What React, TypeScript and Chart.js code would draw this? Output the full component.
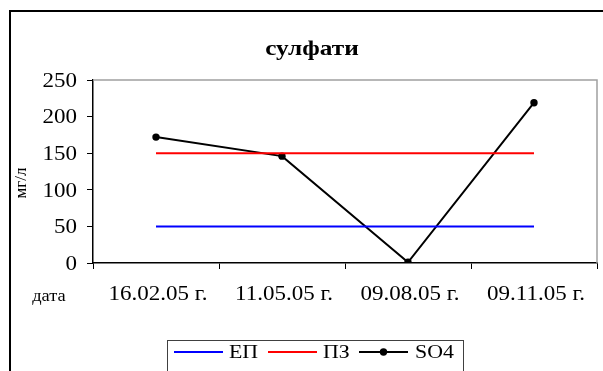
import React, { useEffect, useRef } from "react";
import { Chart, registerables } from "chart.js";

Chart.register(...registerables);

const categories = ["16.02.05 г.", "11.05.05 г.", "09.08.05 г.", "09.11.05 г."];
const epValues = [50, 50, 50, 50];
const pzValues = [150, 150, 150, 150];
const so4Values = [172, 146, 1, 219];
const seriesLabels = ["ЕП", "ПЗ", "SO4"];
const seriesColors = ["#0000ff", "#ff0000", "#000000"];
const titleText = "сулфати";
const yAxisTitle = "мг/л";
const xAxisTitle = "дата";

const SERIF = "'Liberation Serif'";
const SX = 1.15;

function drawText(ctx: any, text: string, x: number, y: number, font: string, align: string, sx = SX) {
  ctx.save();
  ctx.translate(x, y);
  ctx.scale(sx, 1);
  ctx.font = font;
  ctx.textAlign = align;
  ctx.textBaseline = "alphabetic";
  ctx.fillStyle = "#000";
  ctx.fillText(text, 0, 0);
  ctx.restore();
}

const decorPlugin = {
  id: "decor",
  beforeDraw(chart: any) {
    const ctx = chart.ctx;
    ctx.save();
    ctx.fillStyle = "#ffffff";
    ctx.fillRect(0, 0, chart.width, chart.height);
    ctx.restore();
  },
  afterDraw(chart: any) {
    const ctx = chart.ctx;
    const a = chart.chartArea;
    ctx.save();
    ctx.strokeStyle = "#a0a0a0";
    ctx.lineWidth = 1.5;
    ctx.beginPath();
    ctx.moveTo(a.left, a.top);
    ctx.lineTo(a.right, a.top);
    ctx.lineTo(a.right, a.bottom);
    ctx.stroke();

    ctx.strokeStyle = "#000000";
    ctx.lineWidth = 2;
    ctx.strokeRect(10, 11, 700, 500);

    const xs = chart.scales.x;
    xs.ticks.forEach((t: any, i: number) => {
      const px = xs.getPixelForTick(i);
      drawText(ctx, xs.getLabelForValue(t.value), px + 2, 300, `20px ${SERIF}`, "center");
    });
    const ys = chart.scales.y;
    ys.ticks.forEach((t: any) => {
      const py = ys.getPixelForValue(t.value);
      drawText(ctx, String(t.value), 77, py + 6.7, `20px ${SERIF}`, "right");
    });

    drawText(ctx, titleText, 312, 55, `bold 22px ${SERIF}`, "center");

    drawText(ctx, xAxisTitle, 49, 301, `16px ${SERIF}`, "center");
    ctx.save();
    ctx.translate(26, 183);
    ctx.rotate(-Math.PI / 2);
    drawText(ctx, yAxisTitle, 0, 0, `17px ${SERIF}`, "center", 1);
    ctx.restore();

    const lx = 167, ly = 340;
    ctx.strokeStyle = "#404040";
    ctx.lineWidth = 1;
    ctx.strokeRect(lx + 0.5, ly + 0.5, 296, 80);
    const items = [
      { x0: 174, x1: 223, tx: 229, marker: false },
      { x0: 268, x1: 317, tx: 323, marker: false },
      { x0: 359, x1: 408, tx: 415, marker: true },
    ];
    const yy = 352;
    items.forEach((it, i) => {
      ctx.strokeStyle = seriesColors[i];
      ctx.lineWidth = 2;
      ctx.beginPath();
      ctx.moveTo(it.x0, yy);
      ctx.lineTo(it.x1, yy);
      ctx.stroke();
      if (it.marker) {
        ctx.fillStyle = seriesColors[i];
        ctx.beginPath();
        ctx.arc((it.x0 + it.x1) / 2, yy, 3.7, 0, Math.PI * 2);
        ctx.fill();
      }
      drawText(ctx, seriesLabels[i], it.tx, 358, `19px ${SERIF}`, "left");
    });
    ctx.restore();
  },
};

export default function App() {
  const ref = useRef<HTMLCanvasElement>(null);
  useEffect(() => {
    if (!ref.current) return;
    const chart = new Chart(ref.current, {
      type: "line",
      data: {
        labels: categories,
        datasets: [
          { label: seriesLabels[0], data: epValues, borderColor: seriesColors[0], borderWidth: 2, pointRadius: 0, tension: 0 },
          { label: seriesLabels[1], data: pzValues, borderColor: seriesColors[1], borderWidth: 2, pointRadius: 0, tension: 0 },
          {
            label: seriesLabels[2],
            data: so4Values,
            borderColor: seriesColors[2],
            backgroundColor: seriesColors[2],
            borderWidth: 2,
            pointRadius: 3.7,
            pointBorderWidth: 0,
            tension: 0,
          },
        ],
      },
      options: {
        responsive: false,
        animation: false,
        devicePixelRatio: 1,
        layout: { padding: { left: 0, top: 80, right: 6, bottom: 0 } },
        plugins: { legend: { display: false }, title: { display: false }, tooltip: { enabled: false } },
        scales: {
          x: {
            type: "category",
            offset: true,
            grid: { offset: true, drawOnChartArea: false, drawTicks: true, tickLength: 6, color: "#000" },
            border: { display: true, color: "#000", width: 1.5 },
            ticks: { display: false, autoSkip: false, maxRotation: 0 },
            afterFit(scale: any) { scale.height = 108; },
          },
          y: {
            min: 0,
            max: 250,
            ticks: { display: false, stepSize: 50 },
            grid: { drawOnChartArea: false, drawTicks: true, tickLength: 6, color: "#000" },
            border: { display: true, color: "#000", width: 1.5 },
            afterFit(scale: any) { scale.width = 93; },
          },
        },
      },
      plugins: [decorPlugin],
    });
    const fonts: any = (document as any).fonts;
    if (fonts && fonts.load) {
      Promise.all([
        fonts.load(`20px "Liberation Serif"`),
        fonts.load(`bold 22px "Liberation Serif"`),
      ]).then(() => chart.update()).catch(() => {});
    }
    return () => chart.destroy();
  }, []);
  return (
    <div style={{ position: "absolute", left: 0, top: 0, width: 603, height: 371 }}>
      <canvas ref={ref} width={603} height={371} style={{ display: "block" }} />
    </div>
  );
}
